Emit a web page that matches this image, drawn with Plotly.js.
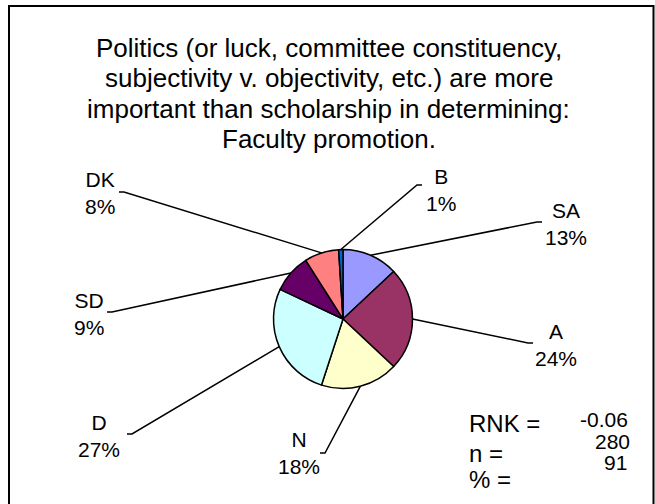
<!DOCTYPE html>
<html>
<head>
<meta charset="utf-8">
<script src="https://cdn.plot.ly/plotly-3.0.1.min.js"></script>
<style>html,body{margin:0;padding:0;background:#fff;}#chart{width:655px;height:504px;}</style>
</head>
<body>
<div id="chart"></div>
<script>
// ---- data ----
const categories = ["SA", "A", "N", "D", "SD", "DK", "B"];
const values = [13, 24, 18, 27, 9, 8, 1];
const sliceColors = ["#9999FF", "#993366", "#FFFFCC", "#CCFFFF", "#660066", "#FF8080", "#0066CC"];
const statLabels = ["RNK =", "n =", "% ="];
const statValues = ["-0.06", "280", "91"];
const titleLines = [
  "Politics (or luck, committee constituency,",
  "subjectivity v. objectivity, etc.) are more",
  "important than scholarship in determining:",
  "Faculty promotion."
];

// ---- layout helpers (pixel -> paper) ----
const W = 655, H = 504;
const px = x => x / W;
const py = y => 1 - y / H;
const cx = 343, cy = 319, r = 69.5;
const FONT = "Liberation Sans, Arial, sans-serif";

// label centres and leader-line ends near labels [x, y, stubDirection]
const labelPos = {
  SA: [566, 224], A: [556, 345], N: [299, 453], D: [99, 436], SD: [89, 314], DK: [100, 193], B: [441, 190]
};
const lineEnd = {
  SA: [542, 222, -1], A: [533, 343, -1], N: [320, 453, 1], D: [127, 434, 1], SD: [107, 312, 1], DK: [119, 192, 1], B: [422, 185, -1]
};

const total = values.reduce((a, b) => a + b, 0);
const shapes = [];
const annotations = [];
let cum = 0;
categories.forEach((c, i) => {
  const mid = (cum + values[i] / 2) / total;
  cum += values[i];
  const th = mid * 2 * Math.PI;
  const ex = cx + r * Math.sin(th), ey = cy - r * Math.cos(th);
  const [lx, ly, dir] = lineEnd[c];
  const sx = lx + dir * 5;
  shapes.push({
    type: "path", xref: "paper", yref: "paper",
    path: `M ${px(lx)} ${py(ly)} L ${px(sx)} ${py(ly)} L ${px(ex)} ${py(ey)}`,
    line: {color: "#000", width: 1.5}
  });
  const pct = Math.round(values[i] / total * 100) + "%";
  annotations.push({
    xref: "paper", yref: "paper", x: px(labelPos[c][0]), y: py(labelPos[c][1]),
    xanchor: "center", yanchor: "middle", showarrow: false, align: "center",
    text: c + "<br>" + pct, font: {family: FONT, size: 21, color: "#000"}
  });
});

// title lines
const titleY = [47.5, 78, 108.5, 139];
titleLines.forEach((t, i) => {
  annotations.push({
    xref: "paper", yref: "paper", x: px(328.5), y: py(titleY[i]), xanchor: "center", yanchor: "middle",
    showarrow: false, text: t, font: {family: FONT, size: 26, color: "#000"}
  });
});

// stats block
const statLabY = [423.5, 453.5, 479.5];
statLabels.forEach((t, i) => {
  annotations.push({
    xref: "paper", yref: "paper", x: px(467), y: py(statLabY[i]), xanchor: "left", yanchor: "middle",
    showarrow: false, text: t, font: {family: FONT, size: 24, color: "#000"}
  });
});
const statValX = [604, 612, 615], statValY = [419, 441, 462];
statValues.forEach((v, i) => {
  annotations.push({
    xref: "paper", yref: "paper", x: px(statValX[i]), y: py(statValY[i]), xanchor: "center", yanchor: "middle",
    showarrow: false, text: v, font: {family: FONT, size: 21, color: "#000"}
  });
});

// frame
shapes.push({
  type: "rect", xref: "paper", yref: "paper",
  x0: px(9), x1: px(653.5), y0: py(520), y1: py(6),
  line: {color: "#000", width: 2}, fillcolor: "rgba(0,0,0,0)"
});

const trace = {
  type: "pie",
  labels: categories,
  values: values,
  sort: false,
  direction: "clockwise",
  rotation: 0,
  textinfo: "none",
  hoverinfo: "label+percent",
  marker: {colors: sliceColors, line: {color: "#000", width: 1.5}},
  domain: {x: [px(cx - r), px(cx + r)], y: [py(cy + r), py(cy - r)]},
  showlegend: false
};

const layout = {
  width: W, height: H,
  margin: {l: 0, r: 0, t: 0, b: 0},
  paper_bgcolor: "#fff",
  showlegend: false,
  shapes: shapes,
  annotations: annotations
};

Plotly.newPlot("chart", [trace], layout, {displayModeBar: false, staticPlot: true});
</script>
</body>
</html>
